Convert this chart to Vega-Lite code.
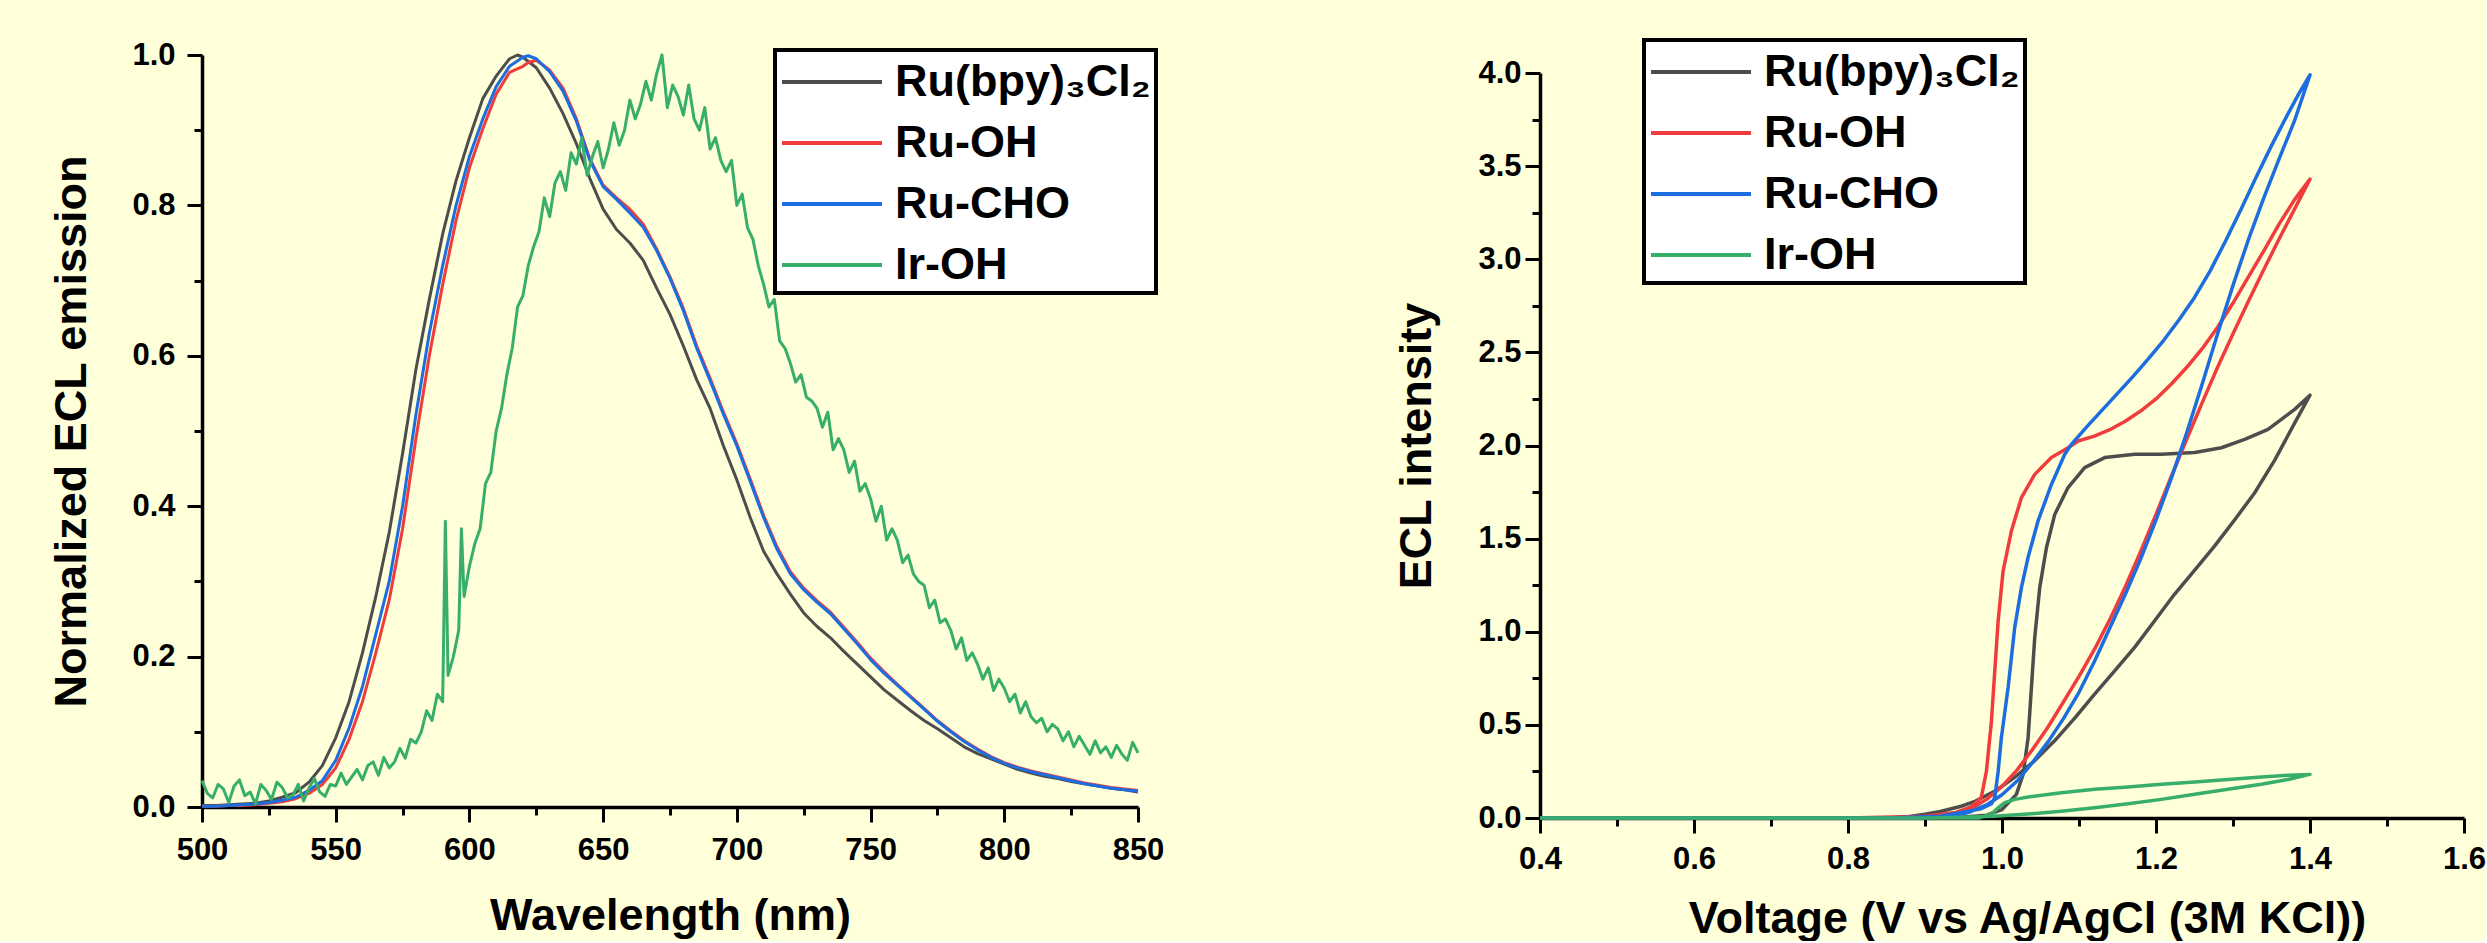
{
  "$schema": "https://vega.github.io/schema/vega-lite/v6.json",
  "background": "#FFFFD9",
  "padding": {"left": 49, "top": 38, "right": 0, "bottom": 0},
  "config": {
    "view": {"stroke": null},
    "font": "Liberation Sans",
    "axis": {
      "domainColor": "black", "domainWidth": 3.5, "tickColor": "black", "tickWidth": 3, "tickSize": 15,
      "labelFont": "Liberation Sans", "labelFontSize": 31, "labelFontWeight": "bold", "labelColor": "black",
      "titleFont": "Liberation Sans", "titleFontSize": 45, "titleFontWeight": "bold", "titleColor": "black",
      "grid": false, "labelFlush": false, "labelOverlap": false
    },
    "legend": {"strokeWidth": 4}
  },
  "datasets": {
    "bpy": [
      {"w":500,"v":0.002},{"w":505,"v":0.002},{"w":510,"v":0.003},{"w":515,"v":0.004},{"w":520,"v":0.005},{"w":525,"v":0.008},{"w":530,"v":0.013},{"w":535,"v":0.019},{"w":540,"v":0.033},{"w":545,"v":0.055},{"w":550,"v":0.092},{"w":555,"v":0.14},{"w":560,"v":0.205},{"w":565,"v":0.28},{"w":570,"v":0.365},{"w":575,"v":0.47},{"w":580,"v":0.582},{"w":585,"v":0.675},{"w":590,"v":0.762},{"w":595,"v":0.833},{"w":600,"v":0.89},{"w":605,"v":0.942},{"w":610,"v":0.972},{"w":615,"v":0.995},{"w":618,"v":1.0},{"w":620,"v":0.997},{"w":625,"v":0.983},{"w":630,"v":0.956},{"w":635,"v":0.922},{"w":640,"v":0.882},{"w":645,"v":0.836},{"w":650,"v":0.795},{"w":655,"v":0.768},{"w":660,"v":0.75},{"w":665,"v":0.727},{"w":670,"v":0.69},{"w":675,"v":0.655},{"w":680,"v":0.613},{"w":685,"v":0.568},{"w":690,"v":0.53},{"w":695,"v":0.48},{"w":700,"v":0.435},{"w":705,"v":0.385},{"w":710,"v":0.34},{"w":715,"v":0.31},{"w":720,"v":0.283},{"w":725,"v":0.258},{"w":730,"v":0.24},{"w":735,"v":0.225},{"w":740,"v":0.207},{"w":745,"v":0.19},{"w":750,"v":0.173},{"w":755,"v":0.156},{"w":760,"v":0.142},{"w":765,"v":0.128},{"w":770,"v":0.115},{"w":775,"v":0.104},{"w":780,"v":0.092},{"w":785,"v":0.08},{"w":790,"v":0.071},{"w":795,"v":0.064},{"w":800,"v":0.057},{"w":805,"v":0.05},{"w":810,"v":0.045},{"w":815,"v":0.041},{"w":820,"v":0.038},{"w":825,"v":0.034},{"w":830,"v":0.031},{"w":835,"v":0.028},{"w":840,"v":0.025},{"w":845,"v":0.023},{"w":850,"v":0.02}
    ],
    "oh": [
      {"w":500,"v":0.001},{"w":505,"v":0.001},{"w":510,"v":0.002},{"w":515,"v":0.002},{"w":520,"v":0.003},{"w":525,"v":0.005},{"w":530,"v":0.007},{"w":535,"v":0.011},{"w":540,"v":0.018},{"w":545,"v":0.03},{"w":550,"v":0.052},{"w":555,"v":0.09},{"w":560,"v":0.14},{"w":565,"v":0.205},{"w":570,"v":0.275},{"w":575,"v":0.37},{"w":580,"v":0.49},{"w":585,"v":0.6},{"w":590,"v":0.695},{"w":595,"v":0.78},{"w":600,"v":0.85},{"w":605,"v":0.902},{"w":610,"v":0.948},{"w":615,"v":0.977},{"w":620,"v":0.985},{"w":622,"v":0.99},{"w":625,"v":0.993},{"w":630,"v":0.98},{"w":635,"v":0.956},{"w":640,"v":0.915},{"w":645,"v":0.862},{"w":650,"v":0.827},{"w":655,"v":0.81},{"w":660,"v":0.795},{"w":665,"v":0.775},{"w":670,"v":0.742},{"w":675,"v":0.705},{"w":680,"v":0.663},{"w":685,"v":0.613},{"w":690,"v":0.57},{"w":695,"v":0.525},{"w":700,"v":0.483},{"w":705,"v":0.436},{"w":710,"v":0.388},{"w":715,"v":0.346},{"w":720,"v":0.313},{"w":725,"v":0.291},{"w":730,"v":0.274},{"w":735,"v":0.259},{"w":740,"v":0.239},{"w":745,"v":0.219},{"w":750,"v":0.198},{"w":755,"v":0.18},{"w":760,"v":0.163},{"w":765,"v":0.147},{"w":770,"v":0.131},{"w":775,"v":0.115},{"w":780,"v":0.101},{"w":785,"v":0.088},{"w":790,"v":0.077},{"w":795,"v":0.067},{"w":800,"v":0.059},{"w":805,"v":0.053},{"w":810,"v":0.048},{"w":815,"v":0.044},{"w":820,"v":0.04},{"w":825,"v":0.036},{"w":830,"v":0.032},{"w":835,"v":0.029},{"w":840,"v":0.026},{"w":845,"v":0.024},{"w":850,"v":0.022}
    ],
    "cho": [
      {"w":500,"v":0.001},{"w":505,"v":0.001},{"w":510,"v":0.002},{"w":515,"v":0.003},{"w":520,"v":0.004},{"w":525,"v":0.006},{"w":530,"v":0.009},{"w":535,"v":0.013},{"w":540,"v":0.022},{"w":545,"v":0.035},{"w":550,"v":0.062},{"w":555,"v":0.105},{"w":560,"v":0.16},{"w":565,"v":0.23},{"w":570,"v":0.3},{"w":575,"v":0.4},{"w":580,"v":0.522},{"w":585,"v":0.63},{"w":590,"v":0.72},{"w":595,"v":0.8},{"w":600,"v":0.865},{"w":605,"v":0.915},{"w":610,"v":0.958},{"w":615,"v":0.985},{"w":620,"v":0.997},{"w":622,"v":0.999},{"w":625,"v":0.995},{"w":630,"v":0.978},{"w":635,"v":0.952},{"w":640,"v":0.912},{"w":645,"v":0.86},{"w":650,"v":0.825},{"w":655,"v":0.808},{"w":660,"v":0.79},{"w":665,"v":0.771},{"w":670,"v":0.74},{"w":675,"v":0.703},{"w":680,"v":0.66},{"w":685,"v":0.61},{"w":690,"v":0.567},{"w":695,"v":0.522},{"w":700,"v":0.48},{"w":705,"v":0.433},{"w":710,"v":0.385},{"w":715,"v":0.343},{"w":720,"v":0.31},{"w":725,"v":0.289},{"w":730,"v":0.272},{"w":735,"v":0.257},{"w":740,"v":0.237},{"w":745,"v":0.217},{"w":750,"v":0.196},{"w":755,"v":0.178},{"w":760,"v":0.162},{"w":765,"v":0.146},{"w":770,"v":0.13},{"w":775,"v":0.114},{"w":780,"v":0.1},{"w":785,"v":0.087},{"w":790,"v":0.076},{"w":795,"v":0.066},{"w":800,"v":0.058},{"w":805,"v":0.052},{"w":810,"v":0.047},{"w":815,"v":0.043},{"w":820,"v":0.039},{"w":825,"v":0.035},{"w":830,"v":0.031},{"w":835,"v":0.028},{"w":840,"v":0.025},{"w":845,"v":0.023},{"w":850,"v":0.021}
    ],
    "ir": [
      {"w":500,"v":0.035},{"w":502,"v":0.018},{"w":504,"v":0.012},{"w":506,"v":0.03},{"w":508,"v":0.024},{"w":510,"v":0.006},{"w":512,"v":0.028},{"w":514,"v":0.036},{"w":516,"v":0.015},{"w":518,"v":0.02},{"w":520,"v":0.004},{"w":522,"v":0.03},{"w":524,"v":0.022},{"w":526,"v":0.01},{"w":528,"v":0.033},{"w":530,"v":0.026},{"w":532,"v":0.012},{"w":534,"v":0.016},{"w":536,"v":0.03},{"w":538,"v":0.008},{"w":540,"v":0.025},{"w":542,"v":0.038},{"w":544,"v":0.02},{"w":546,"v":0.014},{"w":548,"v":0.03},
      {"w":550,"v":0.028},{"w":552,"v":0.045},{"w":554,"v":0.03},{"w":556,"v":0.04},{"w":558,"v":0.05},{"w":560,"v":0.036},{"w":562,"v":0.055},{"w":564,"v":0.06},{"w":566,"v":0.042},{"w":568,"v":0.066},{"w":570,"v":0.052},{"w":572,"v":0.06},{"w":574,"v":0.078},{"w":576,"v":0.065},{"w":578,"v":0.09},{"w":580,"v":0.085},{"w":582,"v":0.1},{"w":584,"v":0.128},{"w":586,"v":0.115},{"w":588,"v":0.15},{"w":590,"v":0.14},{"w":591,"v":0.38},{"w":592,"v":0.175},{"w":594,"v":0.2},{"w":596,"v":0.235},{"w":597,"v":0.37},{"w":598,"v":0.28},
      {"w":600,"v":0.32},{"w":602,"v":0.35},{"w":604,"v":0.37},{"w":606,"v":0.43},{"w":608,"v":0.445},{"w":610,"v":0.5},{"w":612,"v":0.53},{"w":614,"v":0.575},{"w":616,"v":0.61},{"w":618,"v":0.665},{"w":620,"v":0.68},{"w":622,"v":0.72},{"w":624,"v":0.745},{"w":626,"v":0.765},{"w":628,"v":0.81},{"w":630,"v":0.785},{"w":632,"v":0.83},{"w":634,"v":0.845},{"w":636,"v":0.82},{"w":638,"v":0.87},{"w":640,"v":0.855},{"w":642,"v":0.89},{"w":644,"v":0.84},{"w":646,"v":0.865},{"w":648,"v":0.885},{"w":650,"v":0.85},{"w":652,"v":0.875},{"w":654,"v":0.91},{"w":656,"v":0.88},{"w":658,"v":0.9},{"w":660,"v":0.94},{"w":662,"v":0.915},{"w":664,"v":0.935},{"w":666,"v":0.965},{"w":668,"v":0.94},{"w":670,"v":0.975},{"w":672,"v":1.0},{"w":674,"v":0.93},{"w":676,"v":0.96},{"w":678,"v":0.945},{"w":680,"v":0.92},{"w":682,"v":0.96},{"w":684,"v":0.915},{"w":686,"v":0.9},{"w":688,"v":0.93},{"w":690,"v":0.875},{"w":692,"v":0.89},{"w":694,"v":0.86},{"w":696,"v":0.845},{"w":698,"v":0.86},{"w":700,"v":0.8},{"w":702,"v":0.815},{"w":704,"v":0.77},{"w":706,"v":0.755},{"w":708,"v":0.72},{"w":710,"v":0.695},{"w":712,"v":0.665},{"w":714,"v":0.675},{"w":716,"v":0.62},{"w":718,"v":0.61},{"w":720,"v":0.59},{"w":722,"v":0.565},{"w":724,"v":0.575},{"w":726,"v":0.545},{"w":728,"v":0.54},
      {"w":730,"v":0.53},{"w":732,"v":0.505},{"w":734,"v":0.525},{"w":736,"v":0.475},{"w":738,"v":0.49},{"w":740,"v":0.475},{"w":742,"v":0.445},{"w":744,"v":0.46},{"w":746,"v":0.42},{"w":748,"v":0.43},{"w":750,"v":0.41},{"w":752,"v":0.38},{"w":754,"v":0.4},{"w":756,"v":0.355},{"w":758,"v":0.37},{"w":760,"v":0.355},{"w":762,"v":0.325},{"w":764,"v":0.335},{"w":766,"v":0.31},{"w":768,"v":0.3},{"w":770,"v":0.295},{"w":772,"v":0.265},{"w":774,"v":0.275},{"w":776,"v":0.245},{"w":778,"v":0.25},{"w":780,"v":0.235},{"w":782,"v":0.21},{"w":784,"v":0.225},{"w":786,"v":0.195},{"w":788,"v":0.205},{"w":790,"v":0.19},{"w":792,"v":0.17},{"w":794,"v":0.185},{"w":796,"v":0.155},{"w":798,"v":0.17},{"w":800,"v":0.158},{"w":802,"v":0.14},{"w":804,"v":0.15},{"w":806,"v":0.125},{"w":808,"v":0.14},{"w":810,"v":0.12},{"w":812,"v":0.112},{"w":814,"v":0.118},{"w":816,"v":0.1},{"w":818,"v":0.11},{"w":820,"v":0.104},{"w":822,"v":0.088},{"w":824,"v":0.1},{"w":826,"v":0.08},{"w":828,"v":0.094},{"w":830,"v":0.082},{"w":832,"v":0.07},{"w":834,"v":0.088},{"w":836,"v":0.072},{"w":838,"v":0.08},{"w":840,"v":0.066},{"w":842,"v":0.082},{"w":844,"v":0.07},{"w":846,"v":0.062},{"w":848,"v":0.086},{"w":850,"v":0.072}
    ],
    "cv_bpy": [
      {"i":0,"V":0.4,"I":0},{"i":1,"V":0.7,"I":0},{"i":2,"V":0.9,"I":0.002},{"i":3,"V":0.95,"I":0.006},{"i":4,"V":0.98,"I":0.015},{"i":5,"V":1.0,"I":0.045},{"i":6,"V":1.0187,"I":0.127},{"i":7,"V":1.0274,"I":0.234},{"i":8,"V":1.0339,"I":0.431},{"i":9,"V":1.0382,"I":0.7},{"i":10,"V":1.0425,"I":0.968},{"i":11,"V":1.049,"I":1.237},{"i":12,"V":1.0577,"I":1.451},{"i":13,"V":1.0685,"I":1.63},{"i":14,"V":1.0858,"I":1.774},{"i":15,"V":1.1074,"I":1.881},{"i":16,"V":1.1334,"I":1.935},{"i":17,"V":1.1724,"I":1.953},{"i":18,"V":1.207,"I":1.953},{"i":19,"V":1.2503,"I":1.962},{"i":20,"V":1.2849,"I":1.988},{"i":21,"V":1.3152,"I":2.033},{"i":22,"V":1.3455,"I":2.087},{"i":23,"V":1.3628,"I":2.14},{"i":24,"V":1.3801,"I":2.194},{"i":25,"V":1.4,"I":2.27},
      {"i":26,"V":1.38,"I":2.12},{"i":27,"V":1.354,"I":1.92},{"i":28,"V":1.328,"I":1.745},{"i":29,"V":1.302,"I":1.6},{"i":30,"V":1.276,"I":1.46},{"i":31,"V":1.25,"I":1.33},{"i":32,"V":1.224,"I":1.201},{"i":33,"V":1.198,"I":1.058},{"i":34,"V":1.172,"I":0.915},{"i":35,"V":1.146,"I":0.789},{"i":36,"V":1.12,"I":0.664},{"i":37,"V":1.095,"I":0.539},{"i":38,"V":1.068,"I":0.413},{"i":39,"V":1.042,"I":0.306},{"i":40,"V":1.016,"I":0.217},{"i":41,"V":0.991,"I":0.145},{"i":42,"V":0.965,"I":0.089},{"i":43,"V":0.947,"I":0.063},{"i":44,"V":0.92,"I":0.035},{"i":45,"V":0.9,"I":0.02},{"i":46,"V":0.88,"I":0.008},{"i":47,"V":0.86,"I":0.002},{"i":48,"V":0.84,"I":0},{"i":49,"V":0.4,"I":0}
    ],
    "cv_oh": [
      {"i":0,"V":0.4,"I":0},{"i":1,"V":0.8,"I":0},{"i":2,"V":0.9,"I":0.01},{"i":3,"V":0.94,"I":0.03},{"i":4,"V":0.96,"I":0.06},{"i":5,"V":0.973,"I":0.109},{"i":6,"V":0.9798,"I":0.252},{"i":7,"V":0.9863,"I":0.521},{"i":8,"V":0.9906,"I":0.789},{"i":9,"V":0.995,"I":1.058},{"i":10,"V":1.0014,"I":1.326},{"i":11,"V":1.0122,"I":1.541},{"i":12,"V":1.0252,"I":1.72},{"i":13,"V":1.0425,"I":1.845},{"i":14,"V":1.0642,"I":1.935},{"i":15,"V":1.0858,"I":1.988},{"i":16,"V":1.0988,"I":2.024},{"i":17,"V":1.12,"I":2.05},{"i":18,"V":1.14,"I":2.085},{"i":19,"V":1.16,"I":2.13},{"i":20,"V":1.18,"I":2.185},{"i":21,"V":1.2,"I":2.25},{"i":22,"V":1.22,"I":2.33},{"i":23,"V":1.24,"I":2.42},{"i":24,"V":1.26,"I":2.52},{"i":25,"V":1.28,"I":2.635},{"i":26,"V":1.3,"I":2.765},{"i":27,"V":1.32,"I":2.905},{"i":28,"V":1.34,"I":3.045},{"i":29,"V":1.36,"I":3.19},{"i":30,"V":1.38,"I":3.32},{"i":31,"V":1.4,"I":3.43},
      {"i":32,"V":1.38,"I":3.27},{"i":33,"V":1.36,"I":3.11},{"i":34,"V":1.34,"I":2.945},{"i":35,"V":1.32,"I":2.775},{"i":36,"V":1.3,"I":2.6},{"i":37,"V":1.28,"I":2.42},{"i":38,"V":1.26,"I":2.23},{"i":39,"V":1.24,"I":2.035},{"i":40,"V":1.22,"I":1.835},{"i":41,"V":1.2,"I":1.63},{"i":42,"V":1.18,"I":1.43},{"i":43,"V":1.16,"I":1.24},{"i":44,"V":1.14,"I":1.065},{"i":45,"V":1.12,"I":0.905},{"i":46,"V":1.1,"I":0.76},{"i":47,"V":1.08,"I":0.625},{"i":48,"V":1.06,"I":0.49},{"i":49,"V":1.04,"I":0.37},{"i":50,"V":1.02,"I":0.26},{"i":51,"V":1.0,"I":0.17},{"i":52,"V":0.98,"I":0.1},{"i":53,"V":0.96,"I":0.05},{"i":54,"V":0.94,"I":0.02},{"i":55,"V":0.92,"I":0.007},{"i":56,"V":0.9,"I":0.002},{"i":57,"V":0.88,"I":0},{"i":58,"V":0.4,"I":0}
    ],
    "cv_cho": [
      {"i":0,"V":0.4,"I":0},{"i":1,"V":0.85,"I":0},{"i":2,"V":0.92,"I":0.01},{"i":3,"V":0.947,"I":0.03},{"i":4,"V":0.973,"I":0.05},{"i":5,"V":0.986,"I":0.075},{"i":6,"V":0.9906,"I":0.109},{"i":7,"V":0.995,"I":0.25},{"i":8,"V":0.9992,"I":0.431},{"i":9,"V":1.0079,"I":0.7},{"i":10,"V":1.0165,"I":1.022},{"i":11,"V":1.0252,"I":1.237},{"i":12,"V":1.0339,"I":1.4},{"i":13,"V":1.0468,"I":1.595},{"i":14,"V":1.0642,"I":1.791},{"i":15,"V":1.0815,"I":1.953},{"i":16,"V":1.0901,"I":2.006},{"i":17,"V":1.11,"I":2.1},{"i":18,"V":1.13,"I":2.19},{"i":19,"V":1.15,"I":2.28},{"i":20,"V":1.17,"I":2.37},{"i":21,"V":1.19,"I":2.465},{"i":22,"V":1.21,"I":2.565},{"i":23,"V":1.23,"I":2.675},{"i":24,"V":1.25,"I":2.795},{"i":25,"V":1.27,"I":2.935},{"i":26,"V":1.29,"I":3.095},{"i":27,"V":1.31,"I":3.265},{"i":28,"V":1.33,"I":3.44},{"i":29,"V":1.35,"I":3.61},{"i":30,"V":1.37,"I":3.77},{"i":31,"V":1.385,"I":3.885},{"i":32,"V":1.4,"I":3.99},
      {"i":33,"V":1.38,"I":3.745},{"i":34,"V":1.36,"I":3.54},{"i":35,"V":1.34,"I":3.33},{"i":36,"V":1.32,"I":3.105},{"i":37,"V":1.3,"I":2.86},{"i":38,"V":1.28,"I":2.6},{"i":39,"V":1.26,"I":2.33},{"i":40,"V":1.24,"I":2.07},{"i":41,"V":1.22,"I":1.825},{"i":42,"V":1.2,"I":1.6},{"i":43,"V":1.18,"I":1.39},{"i":44,"V":1.16,"I":1.2},{"i":45,"V":1.14,"I":1.02},{"i":46,"V":1.12,"I":0.84},{"i":47,"V":1.1,"I":0.675},{"i":48,"V":1.08,"I":0.535},{"i":49,"V":1.06,"I":0.41},{"i":50,"V":1.04,"I":0.3},{"i":51,"V":1.02,"I":0.2},{"i":52,"V":1.0,"I":0.125},{"i":53,"V":0.98,"I":0.07},{"i":54,"V":0.96,"I":0.035},{"i":55,"V":0.94,"I":0.012},{"i":56,"V":0.92,"I":0.004},{"i":57,"V":0.9,"I":0},{"i":58,"V":0.4,"I":0}
    ],
    "cv_ir": [
      {"i":0,"V":0.4,"I":0},{"i":1,"V":0.97,"I":0},{"i":2,"V":0.986,"I":0.02},{"i":3,"V":0.995,"I":0.055},{"i":4,"V":1.0036,"I":0.082},{"i":5,"V":1.0165,"I":0.1},{"i":6,"V":1.0339,"I":0.113},{"i":7,"V":1.0771,"I":0.136},{"i":8,"V":1.1204,"I":0.154},{"i":9,"V":1.1637,"I":0.166},{"i":10,"V":1.207,"I":0.181},{"i":11,"V":1.2503,"I":0.193},{"i":12,"V":1.2935,"I":0.207},{"i":13,"V":1.3368,"I":0.22},{"i":14,"V":1.3714,"I":0.229},{"i":15,"V":1.4,"I":0.234},{"i":16,"V":1.3714,"I":0.207},{"i":17,"V":1.3368,"I":0.181},{"i":18,"V":1.2935,"I":0.154},{"i":19,"V":1.2503,"I":0.127},{"i":20,"V":1.207,"I":0.1},{"i":21,"V":1.1637,"I":0.077},{"i":22,"V":1.1204,"I":0.055},{"i":23,"V":1.0771,"I":0.036},{"i":24,"V":1.0339,"I":0.021},{"i":25,"V":0.99,"I":0.009},{"i":26,"V":0.947,"I":0.004},{"i":27,"V":0.9,"I":0},{"i":28,"V":0.4,"I":0}
    ],
    "spacer": [{"a": 0}]
  },
  "spacing": 230,
  "columns": 2,
  "resolve": {"scale": {"color": "independent"}, "legend": {"color": "independent"}},
  "concat": [
    {
      "width": 936, "height": 752,
      "resolve": {"axis": {"x": "independent", "y": "independent"}},
      "layer": [
        {
          "encoding": {
            "x": {"field": "w", "type": "quantitative", "scale": {"domain": [500, 850], "nice": false, "zero": false},
                  "axis": {"title": "Wavelength (nm)", "values": [500, 550, 600, 650, 700, 750, 800, 850], "format": "d", "labelPadding": 13, "titlePadding": 28, "orient": "bottom"}},
            "y": {"field": "v", "type": "quantitative", "scale": {"domain": [0, 1], "nice": false},
                  "axis": {"title": "Normalized ECL emission", "values": [0, 0.2, 0.4, 0.6, 0.8, 1.0], "format": ".1f", "labelPadding": 12, "titlePadding": 37, "orient": "left"}}
          },
          "layer": [
            {"data": {"name": "bpy"}, "mark": {"type": "line", "strokeWidth": 3, "strokeJoin": "round"},
             "encoding": {"color": {"datum": "Ru(bpy)₃Cl₂", "type": "nominal",
               "scale": {"domain": ["Ru(bpy)₃Cl₂", "Ru-OH", "Ru-CHO", "Ir-OH"], "range": ["#4D4D4D", "#F03C3C", "#1C6DE0", "#38AE6B"]},
               "legend": {"title": null, "orient": "none", "legendX": 573, "legendY": -5, "direction": "vertical",
                 "symbolType": "M-1,0H3", "symbolSize": 2500, "symbolStrokeWidth": 4, "symbolOffset": 0,
                 "labelFont": "Liberation Sans", "labelFontSize": 45, "labelFontWeight": "bold", "labelColor": "black", "labelOffset": 61, "labelLimit": 600,
                 "padding": 5, "rowPadding": 11, "fillColor": "white", "strokeColor": "black"}}}},
            {"data": {"name": "oh"}, "mark": {"type": "line", "strokeWidth": 3, "strokeJoin": "round"},
             "encoding": {"color": {"datum": "Ru-OH", "type": "nominal"}}},
            {"data": {"name": "cho"}, "mark": {"type": "line", "strokeWidth": 3, "strokeJoin": "round"},
             "encoding": {"color": {"datum": "Ru-CHO", "type": "nominal"}}},
            {"data": {"name": "ir"}, "mark": {"type": "line", "strokeWidth": 3, "strokeJoin": "round"},
             "encoding": {"color": {"datum": "Ir-OH", "type": "nominal"}}}
          ]
        },
        {
          "data": {"name": "bpy"},
          "mark": {"type": "point", "opacity": 0},
          "encoding": {
            "x": {"field": "w", "type": "quantitative", "axis": {"orient": "bottom", "values": [525, 575, 625, 675, 725, 775, 825], "labels": false, "domain": false, "tickSize": 8, "title": null}},
            "y": {"field": "v", "type": "quantitative", "axis": {"orient": "left", "values": [0.1, 0.3, 0.5, 0.7, 0.9], "labels": false, "domain": false, "tickSize": 8, "title": null}}
          }
        }
      ]
    },
    {
      "spacing": -2,
      "vconcat": [
        {
          "width": 924, "height": 1,
          "data": {"name": "spacer"},
          "mark": {"type": "point", "opacity": 0}
        },
        {
          "width": 924, "height": 745,
          "resolve": {"axis": {"x": "independent", "y": "independent"}},
          "layer": [
            {
              "encoding": {
                "x": {"field": "V", "type": "quantitative", "scale": {"domain": [0.4, 1.6], "nice": false, "zero": false},
                      "axis": {"title": "Voltage (V vs Ag/AgCl (3M KCl))", "values": [0.4, 0.6, 0.8, 1.0, 1.2, 1.4, 1.6], "format": ".1f", "labelPadding": 11, "titlePadding": 22, "titleX": 487, "orient": "bottom"}},
                "y": {"field": "I", "type": "quantitative", "scale": {"domain": [0, 4], "nice": false},
                      "axis": {"title": "ECL intensity", "values": [0, 0.5, 1.0, 1.5, 2.0, 2.5, 3.0, 3.5, 4.0], "format": ".1f", "labelPadding": 4, "titlePadding": 38, "orient": "left"}},
                "order": {"field": "i", "type": "quantitative"}
              },
              "layer": [
                {"data": {"name": "cv_bpy"}, "mark": {"type": "line", "strokeWidth": 3.5, "strokeJoin": "round"},
                 "encoding": {"color": {"datum": "Ru(bpy)₃Cl₂", "type": "nominal",
                   "scale": {"domain": ["Ru(bpy)₃Cl₂", "Ru-OH", "Ru-CHO", "Ir-OH"], "range": ["#4D4D4D", "#F03C3C", "#1C6DE0", "#38AE6B"]},
                   "legend": {"title": null, "orient": "none", "legendX": 104, "legendY": -15, "direction": "vertical",
                     "symbolType": "M-1,0H3", "symbolSize": 2500, "symbolStrokeWidth": 4, "symbolOffset": 0,
                     "labelFont": "Liberation Sans", "labelFontSize": 45, "labelFontWeight": "bold", "labelColor": "black", "labelOffset": 61, "labelLimit": 600,
                     "padding": 5, "rowPadding": 11, "fillColor": "white", "strokeColor": "black"}}}},
                {"data": {"name": "cv_oh"}, "mark": {"type": "line", "strokeWidth": 3.5, "strokeJoin": "round"},
                 "encoding": {"color": {"datum": "Ru-OH", "type": "nominal"}}},
                {"data": {"name": "cv_cho"}, "mark": {"type": "line", "strokeWidth": 3.5, "strokeJoin": "round"},
                 "encoding": {"color": {"datum": "Ru-CHO", "type": "nominal"}}},
                {"data": {"name": "cv_ir"}, "mark": {"type": "line", "strokeWidth": 3.5, "strokeJoin": "round"},
                 "encoding": {"color": {"datum": "Ir-OH", "type": "nominal"}}}
              ]
            },
            {
              "data": {"name": "cv_ir"},
              "mark": {"type": "point", "opacity": 0},
              "encoding": {
                "x": {"field": "V", "type": "quantitative", "axis": {"orient": "bottom", "values": [0.5, 0.7, 0.9, 1.1, 1.3, 1.5], "labels": false, "domain": false, "tickSize": 8, "title": null}},
                "y": {"field": "I", "type": "quantitative", "axis": {"orient": "left", "values": [0.25, 0.75, 1.25, 1.75, 2.25, 2.75, 3.25, 3.75], "labels": false, "domain": false, "tickSize": 8, "title": null}}
              }
            }
          ]
        }
      ]
    }
  ]
}
